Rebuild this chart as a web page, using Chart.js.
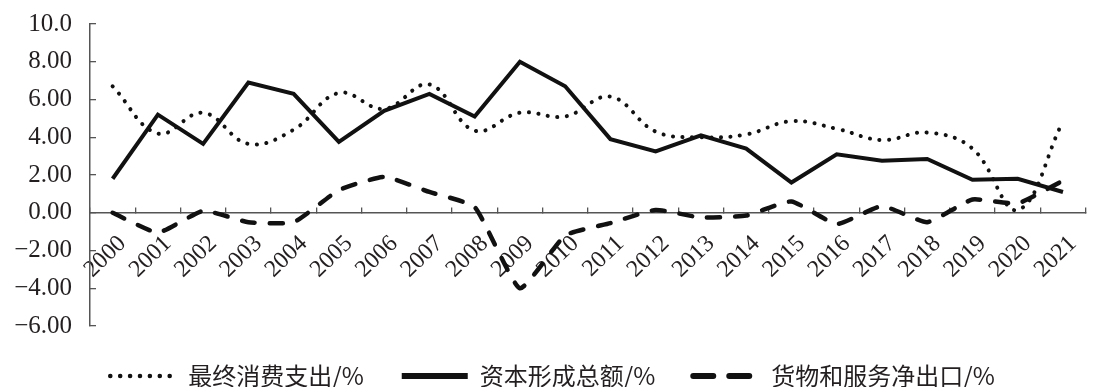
<!DOCTYPE html>
<html>
<head>
<meta charset="utf-8">
<script src="https://cdn.jsdelivr.net/npm/chart.js@4.4.1/dist/chart.umd.min.js"></script>
<style>
  html, body { margin: 0; padding: 0; background: #fff; overflow: hidden; width: 1099px; height: 387px; }
  canvas { display: block; }
</style>
</head>
<body>
<canvas id="chart" width="1106" height="387"></canvas>
<script>
// Contribution of the three demand components, by year (%)
const years = ['2000', '2001', '2002', '2003', '2004', '2005', '2006', '2007', '2008', '2009', '2010',
               '2011', '2012', '2013', '2014', '2015', '2016', '2017', '2018', '2019', '2020', '2021'];

const consumption = [6.7, 4.2, 5.3, 3.65, 4.4, 6.35, 5.5, 6.8, 4.35, 5.3, 5.1,
                     6.15, 4.3, 4.0, 4.15, 4.85, 4.45, 3.85, 4.25, 3.4, 0.15, 4.85];

const capital = [1.8, 5.2, 3.65, 6.9, 6.3, 3.75, 5.4, 6.3, 5.1, 8.0, 6.7,
                 3.9, 3.25, 4.1, 3.4, 1.6, 3.1, 2.75, 2.85, 1.75, 1.8, 1.1];

const netExports = [0.0, -1.05, 0.1, -0.5, -0.5, 1.2, 1.9, 1.1, 0.3, -4.0, -1.2,
                    -0.55, 0.15, -0.25, -0.15, 0.6, -0.6, 0.35, -0.5, 0.7, 0.5, 1.7];

const seriesNames = ['最终消费支出/%', '资本形成总额/%', '货物和服务净出口/%'];

const yTickLabels = ['\u22126.00', '\u22124.00', '\u22122.00', '0.00', '2.00', '4.00', '6.00', '8.00', '10.0'];

const INK = '#111111';
const TEXT = '#231f20';
const AXIS = '#555555';
const SERIF = '"Liberation Serif", "DejaVu Serif", serif';

// legend sample strokes, one per series
const legendStrokes = [
  { lineWidth: 4.5, lineDash: [0.1, 9.8], lineCap: 'round' },
  { lineWidth: 6, lineDash: [], lineCap: 'butt' },
  { lineWidth: 6, lineDash: [20, 16], lineCap: 'round' }
];

new Chart(document.getElementById('chart'), {
  type: 'line',
  data: {
    labels: years,
    datasets: [
      {
        label: seriesNames[0],
        data: consumption,
        borderColor: INK,
        borderWidth: 4,
        borderDash: [0.1, 9.5],
        borderCapStyle: 'round',
        tension: 0.4,
        pointRadius: 0,
        fill: false
      },
      {
        label: seriesNames[1],
        data: capital,
        borderColor: INK,
        borderWidth: 4,
        borderJoinStyle: 'miter',
        tension: 0,
        pointRadius: 0,
        fill: false
      },
      {
        label: seriesNames[2],
        data: netExports,
        borderColor: INK,
        borderWidth: 4.5,
        borderDash: [13, 15],
        borderCapStyle: 'round',
        tension: 0.15,
        pointRadius: 0,
        fill: false
      }
    ]
  },
  options: {
    responsive: false,
    animation: false,
    events: [],
    layout: { padding: { top: 24, left: 0, right: 1, bottom: -11 } },
    scales: {
      x: {
        position: { y: 0 },
        offset: true,
        grid: {
          offset: true,
          drawOnChartArea: false,
          drawTicks: true,
          tickLength: -6,
          color: AXIS,
          lineWidth: 1.3
        },
        border: { display: true, color: AXIS, width: 1.5 },
        ticks: {
          autoSkip: false,
          minRotation: 44,
          maxRotation: 44,
          padding: 23,
          labelOffset: 10,
          color: TEXT,
          font: { family: SERIF, size: 24 }
        },
        afterFit(scale) { scale.height = 0; }
      },
      y: {
        min: -6,
        max: 10,
        grid: {
          drawOnChartArea: false,
          drawTicks: true,
          tickLength: -6,
          color: AXIS,
          lineWidth: 1.3
        },
        border: { display: true, color: AXIS, width: 1.5 },
        ticks: {
          stepSize: 2,
          padding: 24,
          color: TEXT,
          font: { family: SERIF, size: 25 },
          callback: (value, index) => yTickLabels[index]
        },
        afterFit(scale) {
          scale.width = 90;
          scale.paddingTop = 0;
          scale.paddingBottom = 0;
        }
      }
    },
    plugins: {
      tooltip: { enabled: false },
      legend: {
        position: 'bottom',
        labels: {
          usePointStyle: true,
          pointStyleWidth: 66,
          padding: 38,
          color: TEXT,
          font: { family: '"Noto Sans CJK SC", "Noto Sans", sans-serif', size: 24 },
          generateLabels(chart) {
            return chart.data.datasets.map((ds, i) => ({
              text: ds.label,
              datasetIndex: i,
              hidden: false,
              pointStyle: 'line',
              fillStyle: INK,
              strokeStyle: INK,
              fontColor: TEXT,
              lineWidth: legendStrokes[i].lineWidth,
              lineDash: legendStrokes[i].lineDash,
              lineCap: legendStrokes[i].lineCap
            }));
          }
        }
      }
    }
  }
});
</script>
</body>
</html>
